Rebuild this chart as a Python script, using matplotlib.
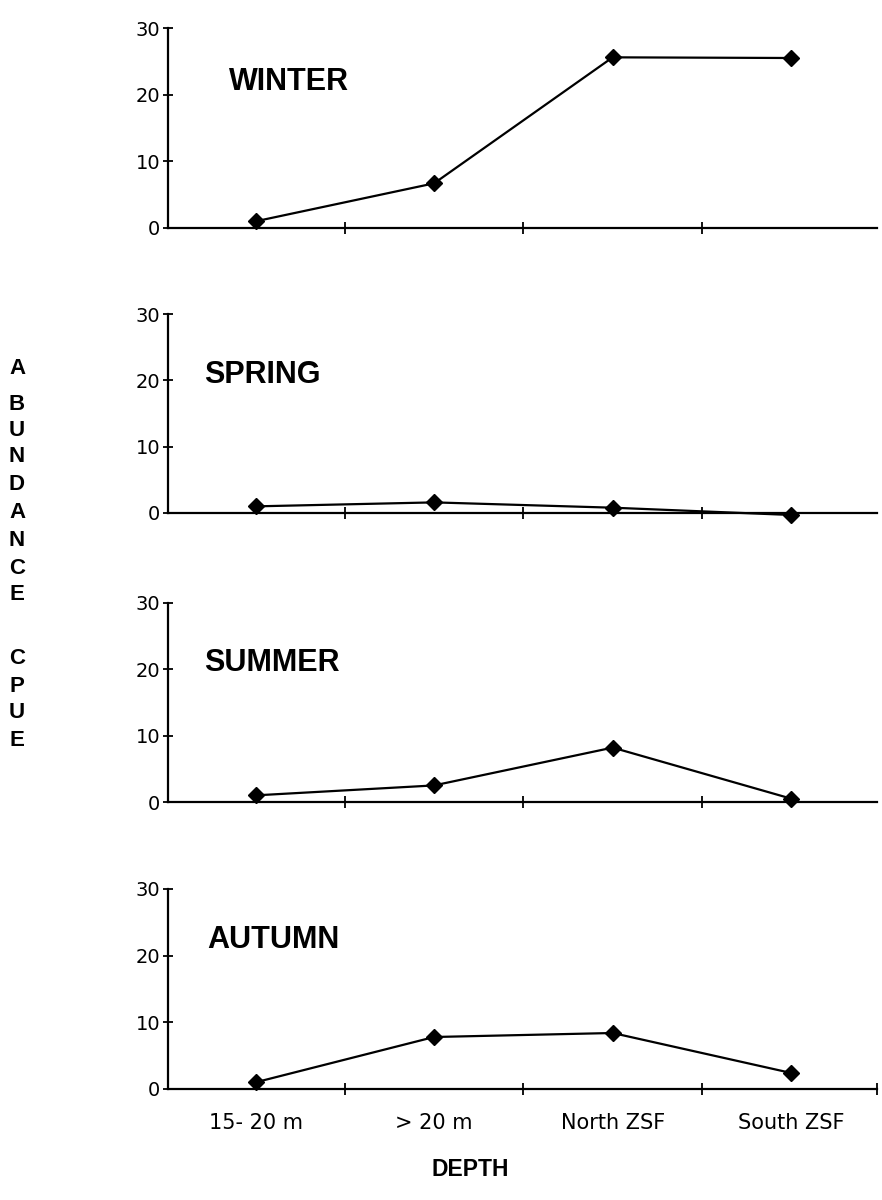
import matplotlib
matplotlib.use("Agg")
import matplotlib.pyplot as plt

categories = ["15- 20 m", "> 20 m", "North ZSF", "South ZSF"]
seasons = ["WINTER", "SPRING", "SUMMER", "AUTUMN"]
winter = [1.0, 6.7, 25.6, 25.5]
spring = [1.0, 1.6, 0.8, -0.3]
summer = [1.0, 2.5, 8.2, 0.5]
autumn = [1.0, 7.8, 8.4, 2.4]
series = [winter, spring, summer, autumn]
yticks = [0, 10, 20, 30]
label_pos = [(-0.15, 21.9), (-0.29, 20.8), (-0.29, 21.0), (-0.27, 22.3)]

fig = plt.figure(figsize=(8.82, 12), dpi=100)
W, H = 882, 1200
# (top pixel for 30, bottom pixel for 0)
panels = [(28, 228), (314, 513), (603, 802), (889, 1089)]
left_px, right_px = 168, 877

ytick_font = dict(family="DejaVu Sans", size=14)
xtick_font = dict(family="DejaVu Sans", size=15)

for i, (top, bot) in enumerate(panels):
    ax = fig.add_axes([left_px / W, 1 - bot / H, (right_px - left_px) / W, (bot - top) / H])
    x = list(range(len(categories)))
    ax.plot(x, series[i], color="black", lw=1.6, marker="D", markersize=8,
            markerfacecolor="black", markeredgecolor="black", clip_on=False, zorder=3)
    ax.set_xlim(-0.49, 3.48)
    ax.set_ylim(0, 30)
    for s in ["top", "right"]:
        ax.spines[s].set_visible(False)
    ax.spines["left"].set_linewidth(1.6)
    ax.spines["bottom"].set_linewidth(1.6)
    ax.set_yticks(yticks)
    ax.set_yticklabels([str(v) for v in yticks], **ytick_font)
    ax.tick_params(axis="y", direction="inout", length=7, width=1.3, pad=2)
    if i == 3:
        ax.set_xticks([0.5, 1.5, 2.5, 3.48])
    else:
        ax.set_xticks([0.5, 1.5, 2.5])
    ax.tick_params(axis="x", direction="inout", length=8, width=1.3)
    ax.set_xticklabels([])
    ax.set_xticks(x, minor=True)
    ax.tick_params(axis="x", which="minor", length=0, pad=17)
    if i == 3:
        ax.set_xticklabels(categories, minor=True, **xtick_font)
    else:
        ax.set_xticklabels([], minor=True)
    lx, ly = label_pos[i]
    ax.text(lx, ly, seasons[i], fontsize=22, fontweight="bold",
            family="Liberation Sans", ha="left", va="center")

ylabel_letters = list("ABUNDANCECPUE")
ylabel_ys = [369, 404, 431, 457, 485, 512, 541, 569, 595, 659, 686, 713, 740]
for ch, yp in zip(ylabel_letters, ylabel_ys):
    fig.text(17 / W, 1 - yp / H, ch, fontsize=16, fontweight="bold",
             family="Liberation Sans", ha="center", va="center")
fig.text(470 / W, 1 - 1170 / H, "DEPTH", fontsize=16.5, fontweight="bold",
         family="Liberation Sans", ha="center", va="center")

fig.savefig("out.png", dpi=100, facecolor="white")
